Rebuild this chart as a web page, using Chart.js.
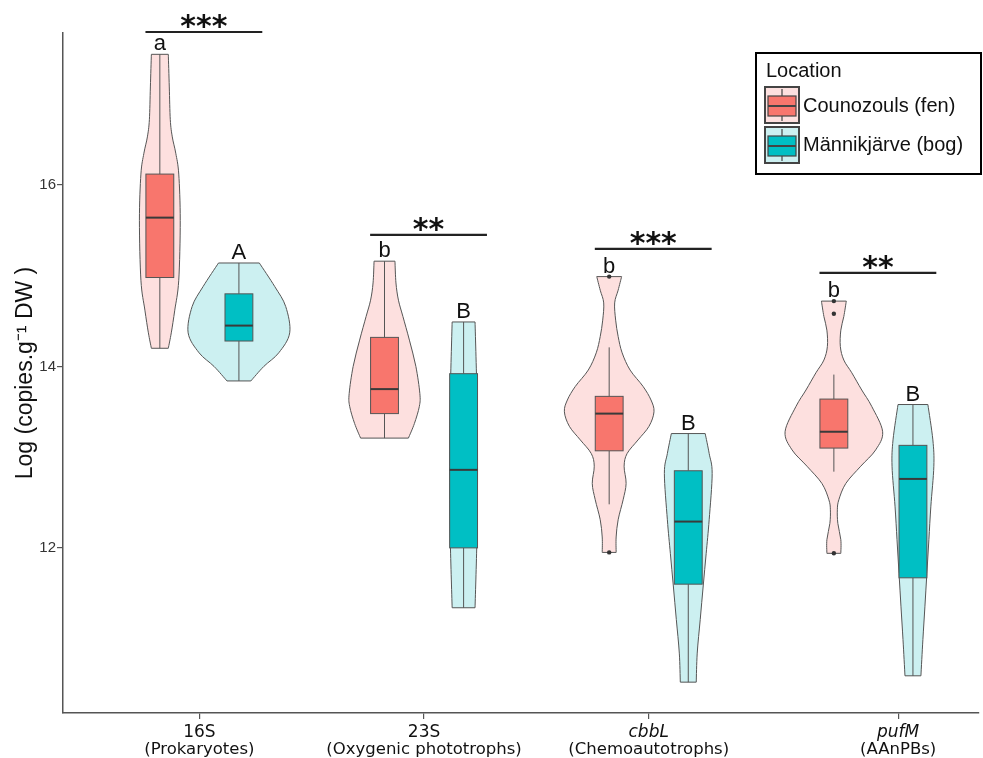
<!DOCTYPE html>
<html>
<head>
<meta charset="utf-8">
<script src="https://cdn.jsdelivr.net/npm/chart.js@4.4.0/dist/chart.umd.min.js"></script>
<style>
  body { margin: 0; background: #fff; }
  #wrap { width: 983px; height: 758px; }
</style>
</head>
<body>
<div id="wrap"><canvas id="chart" width="983" height="758"></canvas></div>
<script>
// categories
const genes = ['16S', '23S', 'cbbL', 'pufM'];
const geneGroups = ['(Prokaryotes)', '(Oxygenic phototrophs)', '(Chemoautotrophs)', '(AAnPBs)'];
const geneItalic = [false, false, true, true];
const locations = ['Counozouls (fen)', 'Männikjärve (bog)'];
const yTicks = [12, 14, 16];

// box stats (log copies per g DW), one value per gene
const fenLow = [14.20, 13.21, 12.48, 12.84];
const fenQ1 = [14.98, 13.48, 13.07, 13.10];
const fenMed = [15.64, 13.75, 13.48, 13.28];
const fenQ3 = [16.12, 14.32, 13.67, 13.64];
const fenHigh = [17.44, 15.16, 14.21, 13.91];
const fenOutliers = [[], [], [14.99, 11.95], [14.72, 14.58, 11.94]];

const bogLow = [13.84, 11.34, 10.52, 10.59];
const bogQ1 = [14.28, 12.00, 11.60, 11.67];
const bogMed = [14.45, 12.86, 12.29, 12.76];
const bogQ3 = [14.80, 13.92, 12.85, 13.13];
const bogHigh = [15.14, 14.49, 13.26, 13.58];

// violin profiles: levels (log copies) and relative density at each level
const fenViolinY = [
  [17.44, 17.08, 16.72, 16.53, 16.35, 16.12, 15.61, 14.95, 14.62, 14.37, 14.20],
  [15.16, 14.92, 14.73, 14.55, 14.29, 14.00, 13.70, 13.56, 13.37, 13.21],
  [14.99, 14.84, 14.70, 14.51, 14.33, 14.15, 13.96, 13.78, 13.63, 13.50, 13.34, 13.19, 13.04, 12.90, 12.71, 12.53, 12.31, 12.12, 11.95],
  [14.72, 14.55, 14.40, 14.22, 14.07, 13.93, 13.74, 13.56, 13.28, 13.08, 12.90, 12.71, 12.53, 12.42, 12.27, 12.09, 11.94]
];
const fenViolinD = [
  [0.17, 0.19, 0.21, 0.25, 0.32, 0.38, 0.41, 0.38, 0.30, 0.23, 0.17],
  [0.21, 0.23, 0.28, 0.37, 0.50, 0.63, 0.71, 0.70, 0.60, 0.48],
  [0.25, 0.18, 0.11, 0.13, 0.18, 0.26, 0.42, 0.68, 0.84, 0.90, 0.80, 0.58, 0.36, 0.30, 0.34, 0.28, 0.18, 0.14, 0.14],
  [0.25, 0.20, 0.14, 0.13, 0.20, 0.36, 0.56, 0.76, 0.98, 0.84, 0.54, 0.24, 0.10, 0.07, 0.08, 0.14, 0.14]
];
const bogViolinY = [
  [15.14, 14.88, 14.66, 14.37, 14.15, 14.00, 13.84],
  [14.49, 13.63, 12.90, 12.16, 11.34],
  [13.26, 13.04, 12.82, 12.31, 11.94, 11.58, 11.21, 10.84, 10.52],
  [13.58, 13.19, 12.90, 12.46, 12.09, 11.72, 11.35, 10.99, 10.59]
];
const bogViolinD = [
  [0.41, 0.72, 0.94, 1.02, 0.80, 0.50, 0.24],
  [0.23, 0.27, 0.28, 0.27, 0.23],
  [0.34, 0.42, 0.48, 0.42, 0.36, 0.30, 0.24, 0.18, 0.16],
  [0.30, 0.40, 0.42, 0.36, 0.32, 0.28, 0.24, 0.20, 0.16]
];

// annotations
const fenLetters = ['a', 'b', 'b', 'b'];
const bogLetters = ['A', 'B', 'B', 'B'];
const signif = ['***', '**', '***', '**'];
const signifLevel = [17.686, 15.45, 15.295, 15.03];

const fenFill = '#fde0df', fenBox = '#F8766D';
const bogFill = '#ccf0f1', bogBox = '#00BFC4';
const edge = '#555';
const dodge = 0.176;
const boxHalf = 0.062;
const violinWidth = 0.2216;

let outlierPoints = [];
fenOutliers.forEach(function(list, i) {
    list.forEach(function(v) { outlierPoints.push({ x: i + 1 - dodge, y: v }); });
});

function smoothTo(ctx, pts) {
    for (let i = 0; i < pts.length - 1; i++) {
        const p0 = pts[Math.max(i - 1, 0)], p1 = pts[i], p2 = pts[i + 1], p3 = pts[Math.min(i + 2, pts.length - 1)];
        ctx.bezierCurveTo(p1.x + (p2.x - p0.x) / 6, p1.y + (p2.y - p0.y) / 6,
                          p2.x - (p3.x - p1.x) / 6, p2.y - (p3.y - p1.y) / 6, p2.x, p2.y);
    }
}

function drawViolin(ctx, xs, ys, pos, levels, dens, fill) {
    const cx = xs.getPixelForValue(pos);
    const unit = xs.getPixelForValue(pos + violinWidth) - cx;
    const right = levels.map(function(v, k) { return { x: cx + dens[k] * unit, y: ys.getPixelForValue(v) }; });
    const left = right.map(function(p) { return { x: 2 * cx - p.x, y: p.y }; }).reverse();
    ctx.beginPath();
    ctx.moveTo(left[left.length - 1].x, left[left.length - 1].y);
    ctx.lineTo(right[0].x, right[0].y);
    smoothTo(ctx, right);
    ctx.lineTo(left[0].x, left[0].y);
    smoothTo(ctx, left);
    ctx.closePath();
    ctx.fillStyle = fill;
    ctx.fill();
    ctx.lineWidth = 1;
    ctx.strokeStyle = edge;
    ctx.stroke();
}

function drawBox(ctx, xs, ys, pos, lo, q1, med, q3, hi, fill) {
    const cx = xs.getPixelForValue(pos);
    const l = xs.getPixelForValue(pos - boxHalf), r = xs.getPixelForValue(pos + boxHalf);
    ctx.strokeStyle = edge;
    ctx.lineWidth = 1;
    ctx.beginPath();
    ctx.moveTo(cx, ys.getPixelForValue(hi));
    ctx.lineTo(cx, ys.getPixelForValue(q3));
    ctx.moveTo(cx, ys.getPixelForValue(q1));
    ctx.lineTo(cx, ys.getPixelForValue(lo));
    ctx.stroke();
    const top = ys.getPixelForValue(q3), bot = ys.getPixelForValue(q1);
    ctx.fillStyle = fill;
    ctx.fillRect(l, top, r - l, bot - top);
    ctx.strokeRect(l, top, r - l, bot - top);
    ctx.lineWidth = 2;
    ctx.strokeStyle = '#3a3a3a';
    ctx.beginPath();
    ctx.moveTo(l, ys.getPixelForValue(med));
    ctx.lineTo(r, ys.getPixelForValue(med));
    ctx.stroke();
}

function legendKey(ctx, x, y, light, dark) {
    ctx.fillStyle = light;
    ctx.fillRect(x, y, 34, 36);
    ctx.lineWidth = 2;
    ctx.strokeStyle = '#444';
    ctx.strokeRect(x, y, 34, 36);
    ctx.lineWidth = 1.2;
    ctx.beginPath();
    ctx.moveTo(x + 17, y + 2); ctx.lineTo(x + 17, y + 9);
    ctx.moveTo(x + 17, y + 29); ctx.lineTo(x + 17, y + 34);
    ctx.stroke();
    ctx.fillStyle = dark;
    ctx.fillRect(x + 3, y + 9, 28, 20);
    ctx.strokeRect(x + 3, y + 9, 28, 20);
    ctx.lineWidth = 2;
    ctx.beginPath();
    ctx.moveTo(x + 3, y + 19); ctx.lineTo(x + 31, y + 19);
    ctx.stroke();
}

const violinPlugin = {
    id: 'violins',
    beforeDatasetsDraw: function(chart) {
        const ctx = chart.ctx, xs = chart.scales.x, ys = chart.scales.y;
        ctx.save();
        genes.forEach(function(g, i) {
            drawViolin(ctx, xs, ys, i + 1 - dodge, fenViolinY[i], fenViolinD[i], fenFill);
            drawBox(ctx, xs, ys, i + 1 - dodge, fenLow[i], fenQ1[i], fenMed[i], fenQ3[i], fenHigh[i], fenBox);
            drawViolin(ctx, xs, ys, i + 1 + dodge, bogViolinY[i], bogViolinD[i], bogFill);
            drawBox(ctx, xs, ys, i + 1 + dodge, bogLow[i], bogQ1[i], bogMed[i], bogQ3[i], bogHigh[i], bogBox);
        });
        ctx.restore();
    },
    afterDraw: function(chart) {
        const ctx = chart.ctx, xs = chart.scales.x, ys = chart.scales.y;
        ctx.save();
        ctx.fillStyle = '#111';
        ctx.textAlign = 'center';
        ctx.textBaseline = 'alphabetic';
        genes.forEach(function(g, i) {
            // group letters above each violin
            ctx.font = '22px "Liberation Sans"';
            ctx.fillText(fenLetters[i], xs.getPixelForValue(i + 1 - dodge), ys.getPixelForValue(fenViolinY[i][0]) - 4);
            ctx.fillText(bogLetters[i], xs.getPixelForValue(i + 1 + dodge), ys.getPixelForValue(bogViolinY[i][0]) - 4);
            // significance bar
            const by = ys.getPixelForValue(signifLevel[i]);
            const bl = xs.getPixelForValue(i + 1 - 0.24), br = xs.getPixelForValue(i + 1 + 0.28);
            ctx.strokeStyle = '#222';
            ctx.lineWidth = 2.2;
            ctx.beginPath();
            ctx.moveTo(bl, by); ctx.lineTo(br, by);
            ctx.stroke();
            ctx.font = 'bold 30px "DejaVu Sans"';
            ctx.fillText(signif[i], (bl + br) / 2, by + 4);
        });

        // x tick labels, two lines
        xs.ticks.forEach(function(t, i) {
            const px = xs.getPixelForValue(t.value);
            ctx.fillStyle = '#111';
            ctx.font = (geneItalic[i] ? 'italic ' : '') + '17px "DejaVu Sans"';
            ctx.fillText(genes[i], px, xs.top + 24);
            ctx.font = '16.5px "DejaVu Sans"';
            ctx.fillText(geneGroups[i], px, xs.top + 41);
        });

        // legend
        ctx.textAlign = 'left';
        ctx.textBaseline = 'middle';
        ctx.fillStyle = '#fff';
        ctx.fillRect(756, 53, 225, 121);
        ctx.lineWidth = 2;
        ctx.strokeStyle = '#000';
        ctx.strokeRect(756, 53, 225, 121);
        ctx.fillStyle = '#111';
        ctx.font = '20px "Liberation Sans"';
        ctx.fillText('Location', 766, 71);
        legendKey(ctx, 765, 87, fenFill, fenBox);
        legendKey(ctx, 765, 127, bogFill, bogBox);
        ctx.fillStyle = '#111';
        ctx.fillText(locations[0], 803, 106);
        ctx.fillText(locations[1], 803, 145);
        ctx.restore();
    }
};

const tickAt = [1, 2, 3, 4.11];

new Chart(document.getElementById('chart').getContext('2d'), {
    type: 'scatter',
    data: {
        datasets: [{
            label: 'outliers',
            data: outlierPoints,
            pointRadius: 2.2,
            pointBackgroundColor: '#333',
            pointBorderWidth: 0
        }]
    },
    options: {
        responsive: false,
        animation: false,
        layout: { padding: { top: 33, right: 0, bottom: 0, left: 0 } },
        plugins: {
            legend: { display: false },
            tooltip: { enabled: false }
        },
        scales: {
            x: {
                type: 'linear',
                min: 0.393,
                max: 4.47,
                afterBuildTicks: function(scale) { scale.ticks = tickAt.map(function(v) { return { value: v }; }); },
                afterFit: function(scale) { scale.height = 45; },
                grid: { drawOnChartArea: false, drawTicks: true, tickLength: 6, color: '#555', lineWidth: 1.2 },
                border: { display: true, color: '#555', width: 1.5 },
                ticks: { callback: function() { return ''; } }
            },
            y: {
                min: 10.18,
                max: 17.675,
                afterBuildTicks: function(scale) { scale.ticks = yTicks.map(function(v) { return { value: v }; }); },
                afterFit: function(scale) { scale.width = 63; },
                grid: { drawOnChartArea: false, drawTicks: true, tickLength: 6, color: '#555', lineWidth: 1.2 },
                border: { display: true, color: '#555', width: 1.5 },
                ticks: { color: '#333', padding: 1, font: { family: 'Liberation Sans', size: 15 } },
                title: {
                    display: true,
                    text: 'Log (copies.g⁻¹ DW )',
                    color: '#111',
                    font: { family: 'Liberation Sans', size: 23 },
                    padding: { top: 12, bottom: 0 }
                }
            }
        }
    },
    plugins: [violinPlugin]
});
</script>
</body>
</html>
